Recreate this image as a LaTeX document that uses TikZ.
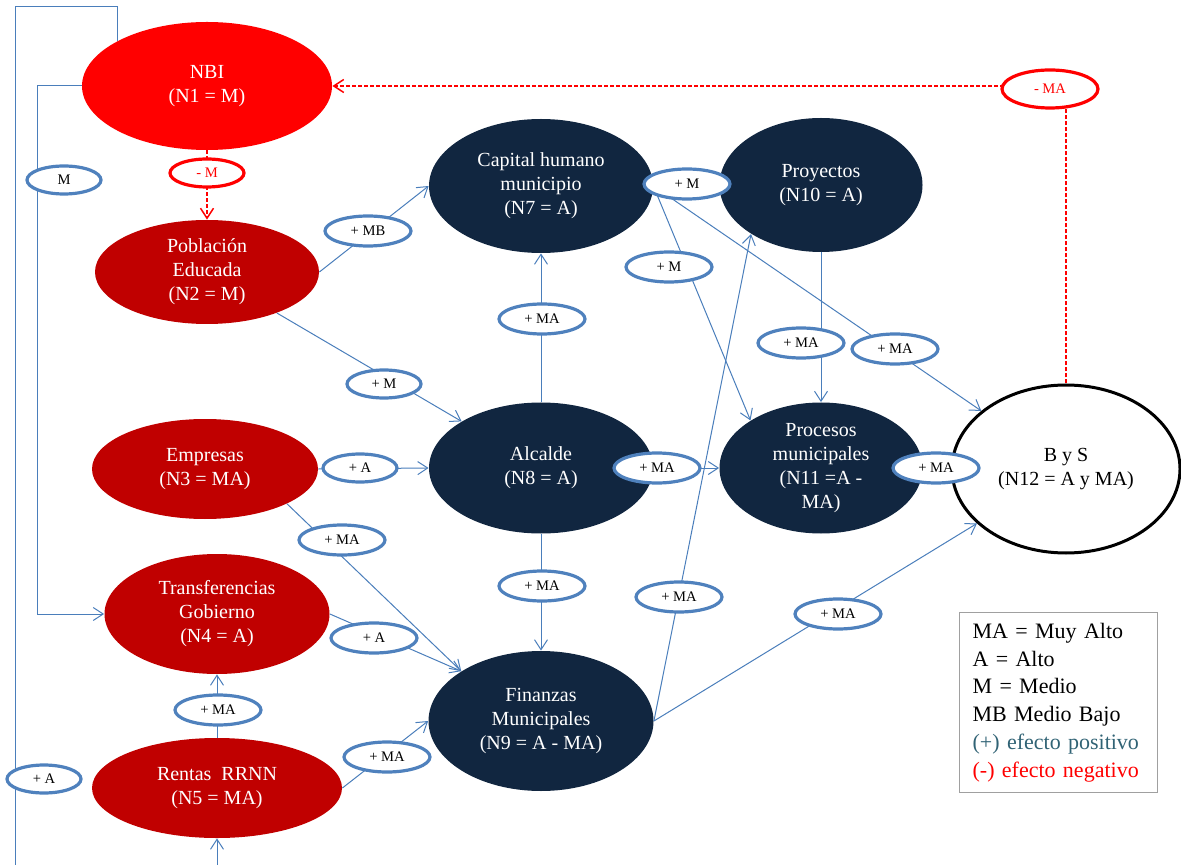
\documentclass[tikz,border=0pt]{standalone}
\usepackage{fontspec}
\setmainfont{Liberation Serif}
\usetikzlibrary{shapes.geometric,arrows.meta}
\definecolor{rojo}{RGB}{255,0,0}
\definecolor{granate}{RGB}{192,0,0}
\definecolor{marino}{RGB}{17,38,64}
\definecolor{linea}{RGB}{74,126,187}
\definecolor{borde}{RGB}{79,129,189}
\definecolor{verdeazul}{RGB}{49,99,117}
\definecolor{gris}{RGB}{160,160,160}
\begin{document}
\begin{tikzpicture}[x=0.5pt,y=-0.5pt,>={Straight Barb[length=5pt,width=6.5pt]},
  every node/.style={font=\fontsize{10}{12}\selectfont},
  nodo/.style={ellipse,inner sep=0pt,align=center,text=white},
  lab/.style={ellipse,draw=borde,line width=1.6pt,fill=white,inner sep=0pt,
    minimum width=43pt,minimum height=15pt,font=\fontsize{7.3}{8}\selectfont},
  labc/.style={lab,minimum width=37pt,minimum height=14pt},
  labr/.style={draw=rojo,text=rojo},
  flow/.style={draw=linea,line width=0.5pt,->},
  neg/.style={draw=rojo,line width=0.75pt,dash pattern=on 2pt off 1pt,->}]
\useasboundingbox (0,0) rectangle (1181,865);
\clip (0,0) rectangle (1181,865);
\node[nodo,fill=rojo,minimum width=125pt,minimum height=64pt] (nbi) at (207,86) {NBI\\(N1 = M)};
\node[nodo,fill=granate,minimum width=112pt,minimum height=52pt] (pob) at (207,272) {Población\\Educada\\(N2 = M)};
\node[nodo,fill=granate,minimum width=113pt,minimum height=50pt] (emp) at (205,469) {Empresas\\(N3 = MA)};
\node[nodo,fill=granate,minimum width=112.5pt,minimum height=60pt] (tra) at (217,614) {Transferencias\\Gobierno\\(N4 = A)};
\node[nodo,fill=granate,minimum width=125pt,minimum height=50pt] (ren) at (217,788) {Rentas~~RRNN\\(N5 = MA)};
\node[nodo,fill=marino,minimum width=112pt,minimum height=67pt] (cap) at (541,186) {Capital humano\\municipio\\(N7 = A)};
\node[nodo,fill=marino,minimum width=112pt,minimum height=65.5pt] (alc) at (541,468) {Alcalde\\(N8 = A)};
\node[nodo,fill=marino,minimum width=112.5pt,minimum height=70pt] (fin) at (541,721) {Finanzas\\Municipales\\(N9 = A - MA)};
\node[nodo,fill=marino,minimum width=101.5pt,minimum height=67pt] (pro) at (821,185) {Proyectos\\(N10 = A)};
\node[nodo,fill=marino,minimum width=101.5pt,minimum height=65.5pt] (prm) at (821,468) {Procesos\\municipales\\(N11 =A -\\MA)};
\node[nodo,fill=white,draw=black,line width=1.5pt,text=black,minimum width=114pt,minimum height=84pt] (bys) at (1066,469) {B y S\\(N12 = A y MA)};
\draw[neg] (nbi) -- (pob);
\draw[neg] (bys.north) |- (nbi.east);
\draw[flow] (nbi.west) -- ++(-44,0) |- (tra.west);
\draw[flow] (nbi.153) |- (15,7) -- (15,890) -| (ren.south);
\draw[flow] (pob.east) -- (cap.west);
\draw[flow] (pob) -- (alc);
\draw[flow] (emp.east) -- (alc.west);
\draw[flow] (emp.-23) -- (fin.148);
\draw[flow] (tra.east) -- (fin.148);
\draw[flow] (ren.east) -- (fin.west);
\draw[flow] (ren.north) -- (tra.south);
\draw[flow] (alc.north) -- (cap.south);
\draw[flow] (alc.south) -- (fin.north);
\draw[flow] (alc.east) -- (prm.west);
\draw[flow] (fin.east) -- (pro.215);
\draw[flow] (fin.east) -- (bys);
\draw[flow] (cap.east) -- (pro.west);
\draw[flow] (cap.east) -- (prm.146);
\draw[flow] (cap.east) -- (bys);
\draw[flow] (pro.south) -- (prm.north);
\draw[flow] (prm.east) -- (bys.west);
\node[labc] (lm1) at (64,180) {M};
\node[labc,labr] (lnm) at (207,173) {- M};
\node[lab,labr,minimum width=48pt,minimum height=19pt] (lnma) at (1050,89) {- MA};
\node[lab] (lmb) at (368,231) {+ MB};
\node[labc] (lm2) at (384,384) {+ M};
\node[lab] (lma1) at (542,319) {+ MA};
\node[labc] (la1) at (360,468) {+ A};
\node[lab] (lma2) at (342,540) {+ MA};
\node[lab] (lma3) at (657,468) {+ MA};
\node[lab] (lma4) at (542,586) {+ MA};
\node[lab] (lma5) at (679,597) {+ MA};
\node[lab] (la2) at (374,638) {+ A};
\node[lab] (lma6) at (387,757) {+ MA};
\node[lab] (lma7) at (218,710) {+ MA};
\node[labc] (la3) at (44,779) {+ A};
\node[lab] (lm3) at (687,184) {+ M};
\node[lab] (lm4) at (669,267) {+ M};
\node[lab] (lma8) at (801,343) {+ MA};
\node[lab] (lma9) at (895,349) {+ MA};
\node[lab] (lma10) at (936,468) {+ MA};
\node[lab] (lma11) at (838,614) {+ MA};
\node[draw=gris,line width=0.6pt,anchor=north west,inner xsep=6.5pt,inner ysep=0pt,
  text width=86pt,minimum height=90pt,align=left,font=\fontsize{11}{13.9}\selectfont]
  (ley) at (959,612) {MA = Muy Alto\\A = Alto\\M = Medio\\MB Medio Bajo\\
  \textcolor{verdeazul}{(+) efecto positivo}\\\textcolor{rojo}{(-) efecto negativo}};
\end{tikzpicture}
\end{document}
